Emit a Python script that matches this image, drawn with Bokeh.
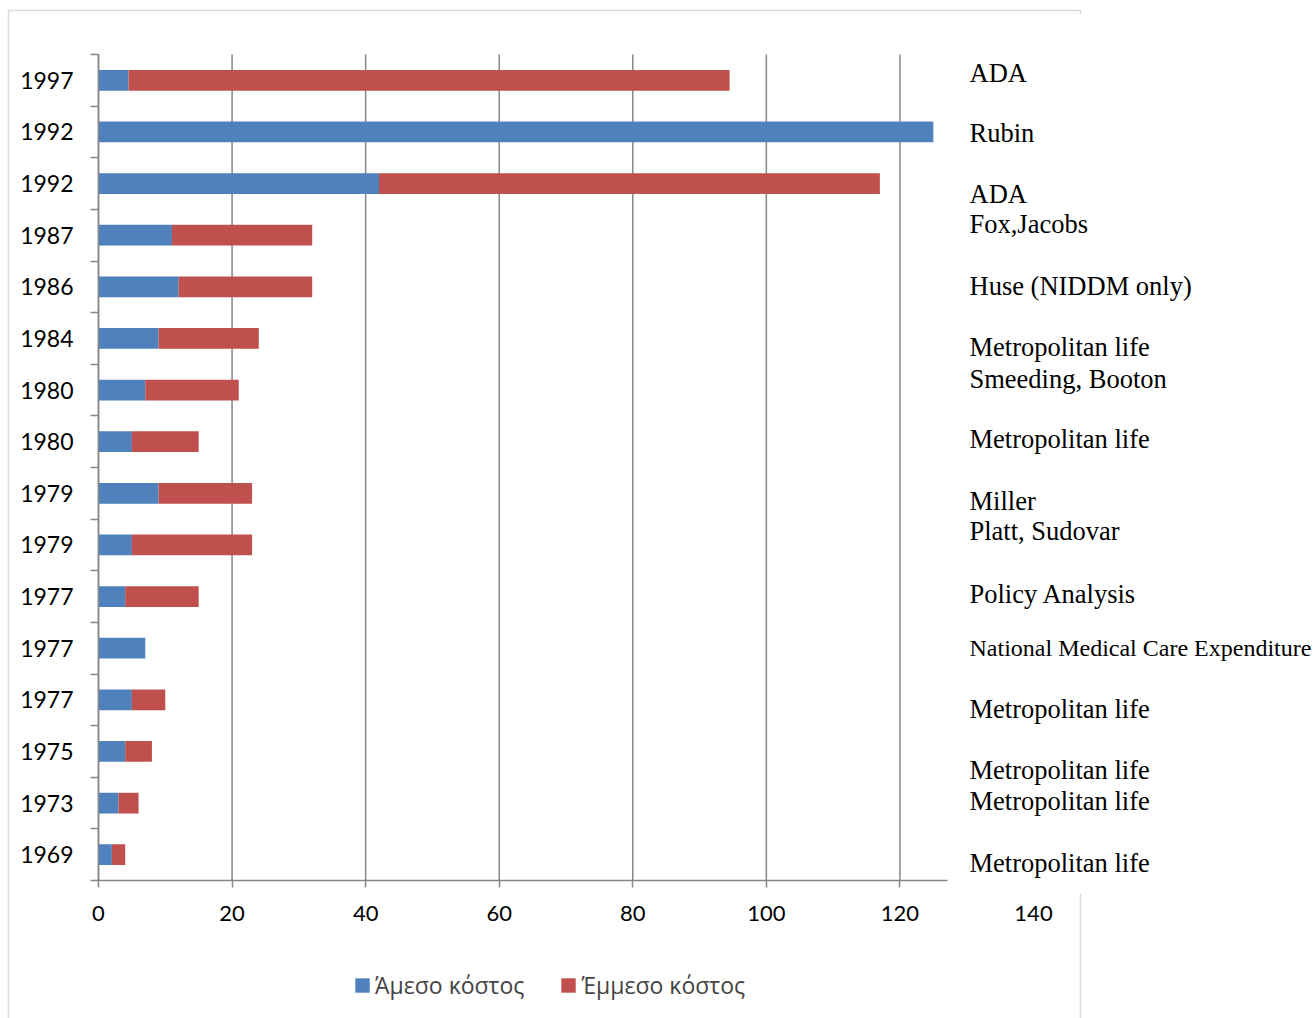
from bokeh.plotting import figure
from bokeh.models import (ColumnDataSource, Range1d, FixedTicker, BoxAnnotation,
                          Legend, LegendItem)
from bokeh.core.properties import value
from bokeh.embed import file_html
from bokeh.resources import INLINE

# ---- data (top to bottom as displayed) ----
years = ["1997", "1992", "1992", "1987", "1986", "1984", "1980", "1980",
         "1979", "1979", "1977", "1977", "1977", "1975", "1973", "1969"]
direct_cost = [4.5, 125, 42, 11, 12, 9, 7, 5, 9, 5, 4, 7, 5, 4, 3, 2]
indirect_cost = [90, 0, 75, 21, 20, 15, 14, 10, 14, 18, 11, 0, 5, 4, 3, 2]
series_names = ["Άμεσο κόστος", "Έμμεσο κόστος"]
x_ticks = [0, 20, 40, 60, 80, 100, 120, 140]
source_lines = ["ADA", "Rubin", "ADA", "Fox,Jacobs", "Huse (NIDDM only)",
                "Metropolitan life", "Smeeding, Booton", "Metropolitan life",
                "Miller", "Platt, Sudovar", "Policy Analysis",
                "National Medical Care Expenditure", "Metropolitan life",
                "Metropolitan life", "Metropolitan life", "Metropolitan life"]

# ---- layout constants (pixels) ----
W, H = 1314, 1018
PX_ZERO, PX_UNIT = 98, 935 / 140          # x = 0 at 98 px, 140 at 1033 px
PY_BOTTOM, PY_TOP = 880, 54               # category area
BLUE, RED, GRAY = "#4F81BD", "#C0504D", "#868686"
n = len(years)
BAND = (PY_BOTTOM - PY_TOP) / n

XS, XE = -PX_ZERO / PX_UNIT, (W - PX_ZERO) / PX_UNIT
YS, YE = -0.5 - (H - PY_BOTTOM) / BAND, -0.5 + PY_BOTTOM / BAND


def dx(px):
    return XS + px / PX_UNIT


def dy(py):
    return YE - py / BAND


ypos = list(range(n - 1, -1, -1))
src = ColumnDataSource(dict(y=ypos, direct=direct_cost, indirect=indirect_cost))

p = figure(width=W, height=H, output_backend="svg", toolbar_location=None,
           x_range=Range1d(XS, XE), y_range=Range1d(YS, YE),
           min_border=0, min_border_left=0, min_border_right=0,
           min_border_top=0, min_border_bottom=0)
p.outline_line_color = None
p.background_fill_color = "white"
p.border_fill_color = "white"
p.xgrid.visible = False
p.ygrid.visible = False

# vertical gridlines over the category area
p.segment(x0=x_ticks, y0=[-0.5] * len(x_ticks), x1=x_ticks, y1=[n - 0.5] * len(x_ticks),
          line_color=GRAY, line_width=1.5)

rs = p.hbar_stack(["direct", "indirect"], y="y", height=0.4, color=[BLUE, RED],
                  source=src, line_color=None)

# x axis
xa = p.xaxis[0]
xa.fixed_location = -0.5
xa.bounds = (0, 140)
xa.ticker = FixedTicker(ticks=x_ticks)
xa.axis_line_color = GRAY
xa.axis_line_width = 1.5
xa.major_tick_line_color = GRAY
xa.major_tick_line_width = 1.5
xa.major_tick_out = 7
xa.major_tick_in = 0
xa.minor_tick_out = 0
xa.minor_tick_in = 0
xa.major_label_text_font = "Lato"
xa.major_label_text_font_size = "22px"
xa.major_label_text_color = "black"
xa.major_label_standoff = 18

# y axis
ya = p.yaxis[0]
ya.fixed_location = 0
ya.bounds = (-0.5, n - 0.5)
ya.ticker = FixedTicker(ticks=ypos, minor_ticks=[i - 0.5 for i in range(n + 1)])
ya.major_label_overrides = {ypos[i]: years[i] for i in range(n)}
ya.axis_line_color = GRAY
ya.axis_line_width = 1.5
ya.major_tick_out = 0
ya.major_tick_in = 0
ya.minor_tick_out = 8
ya.minor_tick_in = 0
ya.minor_tick_line_color = GRAY
ya.minor_tick_line_width = 1.5
ya.major_label_text_font = "Lato"
ya.major_label_text_font_size = "23px"
ya.major_label_text_color = "black"
ya.major_label_standoff = 17

# outer chart border and the white text box over the right side
p.add_layout(BoxAnnotation(left=dx(8), right=dx(1080), top=dy(10), bottom=dy(1100),
                           fill_alpha=0, line_color=GRAY, line_width=1.5))
p.add_layout(BoxAnnotation(left=dx(947), right=dx(1500), top=dy(14), bottom=dy(893),
                           fill_color="white", fill_alpha=1, line_color=None))

baselines = [82, 142, 203, 233, 295, 356, 388, 448, 510, 540, 603, 657,
             718, 779, 810, 872]
shift = 10
sizes = ["24px" if t.startswith("National") else "26.5px" for t in source_lines]
tsrc = ColumnDataSource(dict(x=[dx(969)] * n, y=[dy(b - shift) for b in baselines],
                             text=source_lines, size=sizes))
p.text(x="x", y="y", text="text", source=tsrc, text_baseline="alphabetic",
       text_align="left", text_font=value("Liberation Serif"),
       text_font_size="size", text_color="black", level="overlay")

legend = Legend(items=[LegendItem(label=series_names[0], renderers=[rs[0]]),
                       LegendItem(label=series_names[1], renderers=[rs[1]])],
                orientation="horizontal", location=(353, 17),
                border_line_color=None, background_fill_alpha=0,
                padding=0, margin=0, spacing=35, label_standoff=4,
                glyph_width=18, glyph_height=18,
                label_text_font="Open Sans", label_text_font_size="23px")
p.add_layout(legend)

open("out.html", "w").write(file_html(p, INLINE))
